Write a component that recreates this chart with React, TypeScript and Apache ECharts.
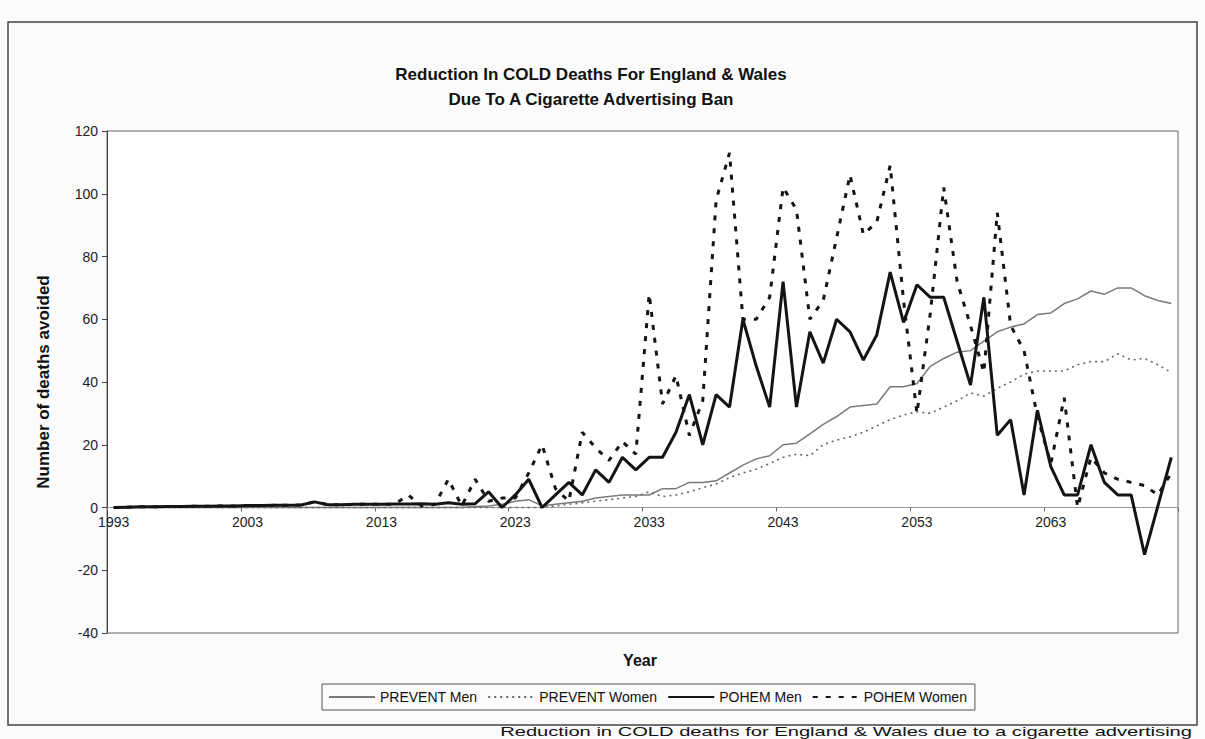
import React, { useEffect, useRef } from "react";
import * as echarts from "echarts";

const years = [
  "1993","1994","1995","1996","1997","1998","1999","2000","2001","2002",
  "2003","2004","2005","2006","2007","2008","2009","2010","2011","2012",
  "2013","2014","2015","2016","2017","2018","2019","2020","2021","2022",
  "2023","2024","2025","2026","2027","2028","2029","2030","2031","2032",
  "2033","2034","2035","2036","2037","2038","2039","2040","2041","2042",
  "2043","2044","2045","2046","2047","2048","2049","2050","2051","2052",
  "2053","2054","2055","2056","2057","2058","2059","2060","2061","2062",
  "2063","2064","2065","2066","2067","2068","2069","2070","2071","2072",
];

const preventMen = [
  0,0,0,0,0,0,0,0,0,0,
  0,0,0,0,0,0,0,0,0,0,
  0,0,0,0,0,0,0,0.3,0.5,1,
  2,2.5,0.5,1,1.5,2,3,3.5,4,4,
  4,6,6,8,8,8.5,11,13.5,15.5,16.5,
  20,20.5,23.5,26.5,29,32,32.5,33,38.5,38.5,
  39.5,45,47.5,49.5,50,53,56,57.5,58.5,61.5,
  62,65,66.5,69,68,70,70,67.5,66,65,
];

const preventWomen = [
  0,0,0,0,0,0,0,0,0,0,
  0,0,0,0,0,0,0,0,0,0,
  0,0,0,0,0,0,0,0,0,0,
  0,0,0,0.5,1,1.5,2,2.5,3,3.5,
  5,3.5,4,5,6.3,7.5,9.5,11,12.2,14,
  16,17,16.5,20,21.5,22.5,24,26,28,29.5,
  30.5,30,32,34,36.5,35.5,38,40,42.5,43.5,
  43.5,43.5,45.5,46.5,46.5,49,47,47.5,45.5,43,
];

const pohemMen = [
  0,0.1,0.2,0.2,0.3,0.3,0.4,0.4,0.5,0.5,
  0.6,0.6,0.7,0.7,0.8,1.8,0.9,0.9,1,1,
  1,1.1,1.1,1.2,1,1.5,1,1.2,5,0,
  4,9,0,4,8,4,12,8,16,12,
  16,16,24,36,20,36,32,60,45,32,
  72,32,56,46,60,56,47,55,75,59,
  71,67,67,53,39,67,23,28,4,31,
  13,4,4,20,8,4,4,-15,0.5,16,
];

const pohemWomen = [
  0,0.1,0.2,0.2,0.3,0.3,0.4,0.4,0.5,0.5,
  0.6,0.6,0.7,0.7,0.8,1.8,0.9,0.9,1,1,
  1,1.1,4,0.5,1,9,0.5,9,2,3,
  3,11,20,6,2,24,19,15,21,17,
  68,33,42,23,34,98,113,60,60,67,
  102,95,60,66,86,106,87,91,109,66,
  30,62,102,72,58,43,94,58,50,29,
  14,35,0,16,11,9,8,7,4,11,
];

const seriesNames = ["PREVENT Men", "PREVENT Women", "POHEM Men", "POHEM Women"];
const yTicks = { min: -40, max: 120, step: 20 };

const FONT = "'Liberation Sans', Arial, sans-serif";

const GRID_TOP = 131;
const GRID_BOTTOM_PX = 633;

export default function App() {
  const ref = useRef<HTMLDivElement>(null);

  useEffect(() => {
    if (!ref.current) return;
    const chart = echarts.init(ref.current, undefined, { renderer: "svg" });
    const plotH = GRID_BOTTOM_PX - GRID_TOP;
    const zeroY = GRID_TOP + (yTicks.max / (yTicks.max - yTicks.min)) * plotH;
    chart.setOption({
      animation: false,
      backgroundColor: "#fbfbfb",
      textStyle: { fontFamily: FONT },
      grid: {
        left: 107,
        right: 27,
        top: GRID_TOP,
        bottom: 739 - GRID_BOTTOM_PX,
        show: true,
        borderColor: "#666",
        borderWidth: 1,
        backgroundColor: "#ffffff",
      },
      legend: {
        data: seriesNames,
        left: 322,
        top: 684,
        orient: "horizontal",
        itemWidth: 46,
        itemHeight: 12,
        itemGap: 10,
        padding: [6, 8, 6, 6],
        borderColor: "#555",
        borderWidth: 1,
        itemStyle: { opacity: 0, borderWidth: 0 },
        textStyle: { fontSize: 14, color: "#111", fontFamily: FONT },
      },
      xAxis: {
        type: "category",
        data: years,
        boundaryGap: true,
        offset: -(GRID_BOTTOM_PX - zeroY),
        axisLine: { onZero: false, lineStyle: { color: "#999", width: 1 } },
        axisTick: { show: true, interval: 9, length: 4, lineStyle: { color: "#666" } },
        axisLabel: { interval: 9, fontSize: 14, color: "#222", margin: 7, fontFamily: FONT },
        splitLine: { show: false },
      },
      yAxis: {
        type: "value",
        min: yTicks.min,
        max: yTicks.max,
        interval: yTicks.step,
        axisLine: { show: true, lineStyle: { color: "#444", width: 1 } },
        axisTick: { show: true, length: 5, lineStyle: { color: "#444" } },
        axisLabel: { fontSize: 14, color: "#222", margin: 9, fontFamily: FONT },
        splitLine: { show: false },
        name: "Number of deaths avoided",
        nameLocation: "middle",
        nameGap: 55,
        nameRotate: 90,
        nameTextStyle: { fontSize: 17, fontWeight: "bold", color: "#111", fontFamily: FONT },
      },
      series: [
        {
          name: seriesNames[0],
          type: "line",
          data: preventMen,
          symbol: "none",
          lineStyle: { color: "#7a7a7a", width: 1.5, type: "solid" },
          itemStyle: { color: "#7a7a7a" },
          z: 2,
        },
        {
          name: seriesNames[1],
          type: "line",
          data: preventWomen,
          symbol: "none",
          lineStyle: { color: "#666", width: 1.6, type: [2, 4] },
          itemStyle: { color: "#666" },
          z: 2,
        },
        {
          name: seriesNames[2],
          type: "line",
          data: pohemMen,
          symbol: "none",
          lineStyle: { color: "#141414", width: 3, type: "solid" },
          itemStyle: { color: "#141414" },
          z: 4,
        },
        {
          name: seriesNames[3],
          type: "line",
          data: pohemWomen,
          symbol: "none",
          lineStyle: { color: "#141414", width: 3, type: [5, 8] },
          itemStyle: { color: "#141414" },
          z: 3,
        },
      ],
      graphic: [
        {
          type: "rect",
          shape: { x: 8, y: 22, width: 1189, height: 703 },
          style: { fill: "none", stroke: "#444", lineWidth: 1.5 },
          z: -1,
        },
        {
          type: "text",
          x: 591,
          y: 74,
          style: {
            text: "Reduction In COLD Deaths For England & Wales",
            textAlign: "center",
            textVerticalAlign: "middle",
            fontSize: 17,
            fontWeight: "bold",
            fontFamily: FONT,
            fill: "#111",
          },
        },
        {
          type: "text",
          x: 591,
          y: 99,
          style: {
            text: "Due To A Cigarette Advertising Ban",
            textAlign: "center",
            textVerticalAlign: "middle",
            fontSize: 17,
            fontWeight: "bold",
            fontFamily: FONT,
            fill: "#111",
          },
        },
        {
          type: "text",
          x: 640,
          y: 660,
          style: {
            text: "Year",
            textAlign: "center",
            textVerticalAlign: "middle",
            fontSize: 16,
            fontWeight: "bold",
            fontFamily: FONT,
            fill: "#111",
          },
        },
        {
          type: "text",
          x: 1192,
          y: 732,
          scaleX: 1.55,
          style: {
            text: "Reduction in COLD deaths for England & Wales due to a cigarette advertising",
            textAlign: "right",
            textVerticalAlign: "middle",
            fontSize: 13,
            fontFamily: FONT,
            fill: "#111",
          },
        },
      ],
    });
    return () => chart.dispose();
  }, []);

  return (
    <div
      ref={ref}
      style={{ position: "fixed", left: 0, top: 0, width: 1205, height: 739 }}
    />
  );
}
